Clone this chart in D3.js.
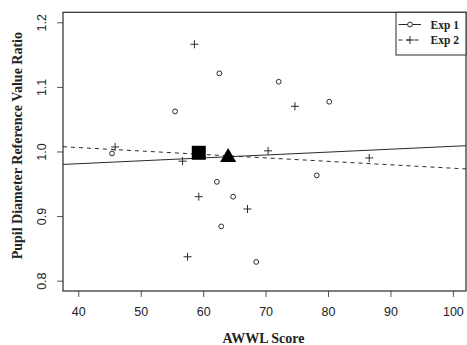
<!DOCTYPE html>
<html>
<head>
<meta charset="utf-8">
<script src="https://cdn.jsdelivr.net/npm/d3@7"></script>
<style>
  body { margin: 0; background: #fff; }
  svg { display: block; }
</style>
</head>
<body>
<svg id="chart" width="467" height="345"></svg>
<script>
// values
const exp1X = [45.4, 55.5, 62.6, 72.1, 80.2, 78.2, 62.2, 64.8, 62.9, 68.5];
const exp1Y = [0.997, 1.062, 1.121, 1.108, 1.077, 0.963, 0.953, 0.930, 0.884, 0.829];
const exp2X = [45.9, 58.6, 74.7, 56.7, 70.4, 86.6, 59.3, 67.1, 57.5];
const exp2Y = [1.007, 1.166, 1.070, 0.985, 1.001, 0.990, 0.930, 0.911, 0.837];

// group means (square, triangle)
const meanX = [59.3, 64.0];
const meanY = [0.998, 0.991];
const meanShape = ['square', 'triangle'];

// fitted lines: [intercept, slope]
const fitExp1 = [0.9631, 0.000449];
const fitExp2 = [1.0274, -0.000533];

const xTicks = [40, 50, 60, 70, 80, 90, 100];
const yTicks = [0.8, 0.9, 1.0, 1.1, 1.2];
const legendLabels = ['Exp 1', 'Exp 2'];

const ink = '#2a2a2a';
const pLeft = 63, pRight = 466, pTop = 12.3, pBottom = 291;

const svg = d3.select('#chart');

const x = d3.scaleLinear().domain([37.55, 102.1]).range([pLeft, pRight]);
const y = d3.scaleLinear().domain([0.784, 1.2155]).range([pBottom, pTop]);

// axes
const xAxis = svg.append('g')
  .attr('transform', `translate(0,${pBottom})`)
  .call(d3.axisBottom(x).tickValues(xTicks).tickSize(6).tickPadding(10).tickFormat(d3.format('d')));
xAxis.select('.domain').remove();
xAxis.selectAll('line').attr('stroke', '#555');
xAxis.selectAll('text')
  .attr('font-family', 'Liberation Sans, Arial, sans-serif')
  .attr('font-size', 12.5)
  .attr('fill', '#222');

const yAxis = svg.append('g')
  .attr('transform', `translate(${pLeft},0)`)
  .call(d3.axisLeft(y).tickValues(yTicks).tickSize(6).tickFormat(d3.format('.1f')));
yAxis.select('.domain').remove();
yAxis.selectAll('line').attr('stroke', '#555');
yAxis.selectAll('text')
  .attr('font-family', 'Liberation Sans, Arial, sans-serif')
  .attr('font-size', 12.5)
  .attr('fill', '#222')
  .attr('text-anchor', 'middle')
  .attr('dy', null)
  .attr('x', null)
  .attr('transform', 'translate(-21,0) rotate(-90)')
  .attr('dominant-baseline', 'central');

// plot box
svg.append('rect')
  .attr('x', pLeft).attr('y', pTop)
  .attr('width', pRight - pLeft).attr('height', pBottom - pTop)
  .attr('fill', 'none')
  .attr('stroke', ink)
  .attr('stroke-width', 1.2);

// axis titles
svg.append('text')
  .attr('x', (pLeft + pRight) / 2 - 1)
  .attr('y', 343)
  .attr('text-anchor', 'middle')
  .attr('font-family', 'Liberation Serif, Times New Roman, serif')
  .attr('font-weight', 'bold')
  .attr('font-size', 14)
  .attr('fill', '#222')
  .text('AWWL Score');

svg.append('text')
  .attr('transform', `translate(22,${(pTop + pBottom) / 2 - 6}) rotate(-90)`)
  .attr('text-anchor', 'middle')
  .attr('font-family', 'Liberation Serif, Times New Roman, serif')
  .attr('font-weight', 'bold')
  .attr('font-size', 14)
  .attr('fill', '#222')
  .text('Pupil Diameter Reference Value Ratio');

const plot = svg.append('g');

// regression lines across the full x range
const [x0, x1] = x.domain();
[[fitExp1, null], [fitExp2, '4,4']].forEach(([f, dash]) => {
  plot.append('line')
    .attr('x1', x(x0)).attr('y1', y(f[0] + f[1] * x0))
    .attr('x2', x(x1)).attr('y2', y(f[0] + f[1] * x1))
    .attr('stroke', ink)
    .attr('stroke-width', 1)
    .attr('stroke-dasharray', dash);
});

// Exp 1 circles
plot.selectAll('circle.exp1')
  .data(d3.zip(exp1X, exp1Y))
  .join('circle')
  .attr('class', 'exp1')
  .attr('cx', d => x(d[0]))
  .attr('cy', d => y(d[1]))
  .attr('r', 2.4)
  .attr('fill', 'none')
  .attr('stroke', ink)
  .attr('stroke-width', 1);

// Exp 2 crosses
function drawPlus(g, cx, cy, s) {
  g.append('path')
    .attr('d', `M${cx - s},${cy}H${cx + s}M${cx},${cy - s}V${cy + s}`)
    .attr('stroke', ink)
    .attr('stroke-width', 1)
    .attr('fill', 'none');
}
d3.zip(exp2X, exp2Y).forEach(d => drawPlus(plot, x(d[0]), y(d[1]), 4));

// means
meanX.forEach((mx, i) => {
  const cx = x(mx), cy = y(meanY[i]);
  if (meanShape[i] === 'square') {
    plot.append('rect')
      .attr('x', cx - 7).attr('y', cy - 7)
      .attr('width', 14).attr('height', 14)
      .attr('fill', '#000');
  } else {
    const r = 9.3, xc = r * 0.866, yc = r / 2;
    plot.append('path')
      .attr('d', `M${cx},${cy - r}L${cx + xc},${cy + yc}L${cx - xc},${cy + yc}Z`)
      .attr('fill', '#000');
  }
});

// legend
const lg = svg.append('g');
lg.append('rect')
  .attr('x', 396).attr('y', pTop)
  .attr('width', pRight - 396).attr('height', 55 - pTop)
  .attr('fill', '#fff')
  .attr('stroke', ink)
  .attr('stroke-width', 1);

const legendY = [24.5, 40];
legendLabels.forEach((lab, i) => {
  const ly = legendY[i];
  lg.append('line')
    .attr('x1', 398.5).attr('x2', 421)
    .attr('y1', ly).attr('y2', ly)
    .attr('stroke', ink)
    .attr('stroke-dasharray', i === 1 ? '4,4' : null);
  if (i === 0) {
    lg.append('circle')
      .attr('cx', 410).attr('cy', ly).attr('r', 2.4)
      .attr('fill', '#fff').attr('stroke', ink);
  } else {
    drawPlus(lg, 410, ly, 4);
  }
  lg.append('text')
    .attr('x', 430.5).attr('y', ly)
    .attr('dominant-baseline', 'central')
    .attr('font-family', 'Liberation Serif, Times New Roman, serif')
    .attr('font-weight', 'bold')
    .attr('font-size', 11.5)
    .attr('fill', '#222')
    .text(lab);
});
</script>
</body>
</html>
